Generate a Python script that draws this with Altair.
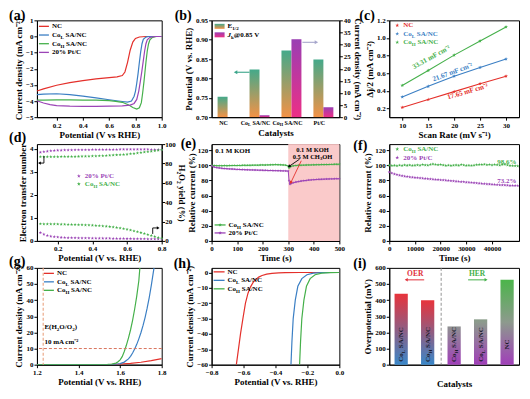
import math
import altair as alt
import pandas as pd

FONT = "Liberation Serif"
RED, BLUE, GREEN, PURPLE = "#e4302b", "#3b7fc4", "#45b04a", "#9b44b6"
STAR = "M0,-1L0.24,-0.33L0.95,-0.31L0.38,0.12L0.59,0.81L0,0.4L-0.59,0.81L-0.38,0.12L-0.95,-0.31L-0.24,-0.33Z"
W1, W2, W3, H = 125, 128, 130, 97
ONE = pd.DataFrame({"k": [0]})

# ------------------------------------------------------------------ data
# (a) ORR LSV
a_names = ["NC", "CoL", "CoH", "PtC"]
a_cols = [RED, BLUE, GREEN, PURPLE]
a_x_nc = [0.05, 0.1, 0.2, 0.3, 0.4, 0.5, 0.6, 0.66, 0.70, 0.72, 0.74, 0.76, 0.78, 0.80, 0.83, 0.88, 1.0]
a_y_nc = [-3.38, -3.25, -3.02, -2.86, -2.73, -2.63, -2.55, -2.5, -2.42, -2.2, -1.6, -0.85, -0.35, -0.12, -0.03, 0.0, 0.0]
a_x_col = [0.05, 0.1, 0.2, 0.3, 0.4, 0.5, 0.6, 0.7, 0.74, 0.77, 0.79, 0.80, 0.81, 0.82, 0.83, 0.84, 0.85, 0.86, 0.88, 0.9, 1.0]
a_y_col = [-3.6, -3.57, -3.55, -3.6, -3.7, -3.8, -3.92, -4.03, -4.07, -4.0, -3.7, -3.4, -2.9, -2.3, -1.6, -0.95, -0.45, -0.18, -0.04, 0.0, 0.0]
a_x_coh = [0.05, 0.1, 0.2, 0.3, 0.4, 0.5, 0.6, 0.65, 0.70, 0.75, 0.78, 0.81, 0.83, 0.845, 0.855, 0.865, 0.872, 0.88, 0.89, 0.90, 0.91, 0.93, 0.96, 1.0]
a_y_coh = [-3.95, -3.94, -3.93, -3.93, -3.94, -3.95, -3.98, -4.02, -4.08, -4.25, -4.4, -4.5, -4.42, -4.1, -3.5, -2.8, -2.25, -1.6, -0.9, -0.45, -0.2, -0.05, 0.0, 0.0]
a_x_ptc = [0.05, 0.1, 0.15, 0.2, 0.3, 0.4, 0.5, 0.6, 0.7, 0.76, 0.79, 0.81, 0.825, 0.837, 0.849, 0.86, 0.87, 0.88, 0.89, 0.91, 0.95, 1.0]
a_y_ptc = [-3.98, -4.12, -4.22, -4.28, -4.32, -4.33, -4.33, -4.32, -4.3, -4.25, -4.15, -3.9, -3.4, -2.8, -2.15, -1.5, -0.9, -0.45, -0.2, -0.05, 0.0, 0.0]

# (b) half-wave potential and kinetic current
b_cats = ["NC", "CoL", "CoH", "PtC"]
b_e12 = [0.753, 0.823, 0.872, 0.849]
b_jk = [0.0, 0.8, 32.2, 4.1]
b_base = 0.70

# (c) double-layer capacitance
c_rate = [10, 15, 20, 25, 30]
c_nc = [0.21, 0.30, 0.39, 0.48, 0.565]
c_col = [0.33, 0.45, 0.565, 0.665, 0.76]
c_coh = [0.46, 0.63, 0.805, 0.965, 1.125]
c_slopes = ["17.65 mF cm⁻²", "21.67 mF cm⁻²", "33.31 mF cm⁻²"]

# (d) RRDE
d_v = [0.10, 0.12, 0.14, 0.16, 0.18, 0.20, 0.22, 0.24, 0.26, 0.28, 0.30, 0.32, 0.34, 0.36, 0.38, 0.40, 0.42, 0.44,
       0.46, 0.48, 0.50, 0.52, 0.54, 0.56, 0.58, 0.60, 0.62, 0.64, 0.66, 0.68, 0.70, 0.72, 0.74, 0.76, 0.78, 0.80]
d_ptc_n = [3.84, 3.87, 3.89, 3.91, 3.92, 3.93, 3.93, 3.94, 3.94, 3.94, 3.95, 3.95, 3.95, 3.95, 3.95, 3.96, 3.96, 3.96,
           3.96, 3.96, 3.96, 3.96, 3.96, 3.97, 3.97, 3.97, 3.97, 3.97, 3.97, 3.97, 3.97, 3.97, 3.96, 3.96, 3.96, 3.96]
d_coh_n = [3.65, 3.65, 3.65, 3.65, 3.65, 3.65, 3.655, 3.66, 3.66, 3.66, 3.66, 3.665, 3.67, 3.67, 3.675, 3.68, 3.685, 3.69,
           3.695, 3.70, 3.71, 3.72, 3.73, 3.74, 3.75, 3.76, 3.78, 3.79, 3.81, 3.83, 3.85, 3.87, 3.89, 3.91, 3.93, 3.95]
d_coh_y = [17.6, 17.5, 17.5, 17.4, 17.4, 17.3, 17.2, 17.1, 17.0, 16.9, 16.8, 16.7, 16.6, 16.4, 16.3, 16.1, 15.9, 15.7,
           15.4, 15.1, 14.7, 14.3, 13.8, 13.2, 12.6, 11.9, 11.1, 10.3, 9.4, 8.5, 7.5, 6.5, 5.5, 4.5, 3.5, 2.6]
d_ptc_y = [8.5, 6.8, 5.6, 4.8, 4.3, 3.9, 3.6, 3.4, 3.3, 3.2, 3.1, 3.0, 3.0, 2.9, 2.9, 2.8, 2.8, 2.7,
           2.7, 2.6, 2.6, 2.5, 2.5, 2.4, 2.4, 2.3, 2.3, 2.2, 2.2, 2.1, 2.1, 2.0, 2.0, 2.0, 1.9, 1.9]

# (e) methanol tolerance
e_t = [0, 10, 20, 30, 40, 50, 60, 70, 80, 90, 100, 110, 120, 130, 140, 150, 160, 170, 180, 190, 200, 210, 220, 230,
       240, 250, 260, 270, 280, 290, 300, 303, 306, 310, 320, 330, 340, 350, 360, 370, 380, 390, 400, 410, 420, 430,
       440, 450, 460, 470, 480, 490, 500]
e_coh = [100.0, 99.7, 99.5, 99.4, 99.5, 99.6, 99.5, 99.6, 99.7, 99.8, 99.7, 99.8, 99.9, 100.0, 99.9, 100.0, 100.1,
         100.2, 100.1, 100.3, 100.4, 100.3, 100.5, 100.6, 100.7, 100.9, 100.7, 100.6, 100.4, 100.1, 99.0, 96.5, 97.5,
         98.6, 99.3, 99.7, 100.0, 100.1, 100.2, 100.3, 100.4, 100.5, 100.6, 100.7, 100.8, 100.9, 101.0, 101.0, 101.1,
         101.2, 101.3, 101.3, 101.4]
e_ptc = [99.5, 97.6, 96.9, 96.4, 96.0, 95.7, 95.4, 95.2, 95.0, 94.8, 94.6, 94.5, 94.3, 94.2, 94.0, 93.9, 93.8, 93.7,
         93.6, 93.5, 93.4, 93.3, 93.2, 93.1, 93.0, 92.9, 92.8, 92.7, 92.6, 92.5, 92.3, 80.0, 75.0, 75.6, 76.9, 77.8,
         78.5, 79.1, 79.6, 80.0, 80.4, 80.7, 81.0, 81.2, 81.4, 81.5, 81.7, 81.8, 81.9, 82.0, 82.1, 82.2, 82.2]
e_shade = [300, 500]

# (f) stability
f_t = [0, 1000, 2000, 3000, 4000, 5000, 6000, 7000, 8000, 9000, 10000, 11000, 12000, 13000, 14000, 15000, 16000,
       17000, 18000, 19000, 20000, 21000, 22000, 23000, 24000, 25000, 26000, 27000, 28000, 29000, 30000, 31000, 32000,
       33000, 34000, 35000, 36000, 37000, 38000, 39000, 40000, 41000, 42000, 43000, 44000, 45000, 46000, 47000, 48000,
       49000, 50000]
f_coh = [100.0, 99.6, 99.8, 99.4, 100.1, 99.7, 100.4, 99.8, 100.2, 99.6, 100.0, 100.3, 99.9, 100.8, 100.2, 100.1,
         101.0, 101.6, 101.1, 100.5, 100.8, 100.2, 99.7, 100.1, 99.6, 99.9, 100.3, 99.8, 100.9, 100.2, 99.7, 99.9,
         99.5, 100.1, 100.6, 101.0, 100.8, 101.2, 100.5, 100.8, 100.3, 100.9, 100.6, 100.1, 100.8, 101.3, 100.2, 99.7,
         99.4, 99.2, 99.0]
f_ptc = [91.0, 89.6, 88.5, 87.6, 86.8, 86.1, 85.5, 85.0, 84.5, 84.1, 83.8, 83.4, 83.1, 82.8, 82.4, 82.2, 81.9, 81.6,
         81.2, 81.0, 80.6, 80.4, 80.1, 79.8, 79.4, 79.2, 78.9, 78.6, 78.2, 78.0, 77.6, 77.4, 77.1, 76.8, 76.4, 76.2,
         75.9, 75.6, 75.2, 75.0, 74.7, 74.5, 74.3, 74.0, 73.9, 73.7, 73.5, 73.3, 73.2, 73.1, 73.0]
f_final = ["98.6%", "73.2%"]

# (g) OER LSV
g_x_nc = [1.2, 1.4, 1.5, 1.55, 1.6, 1.65, 1.7, 1.75, 1.8]
g_y_nc = [0, 0, 0.02, 0.1, 0.35, 0.8, 1.5, 2.5, 3.8]
g_x_col = [1.2, 1.4, 1.5, 1.55, 1.58, 1.60, 1.62, 1.64, 1.65, 1.66, 1.67, 1.68, 1.69, 1.70, 1.71, 1.72, 1.73, 1.74,
           1.75, 1.76, 1.763]
g_y_col = [0, 0, 0.01, 0.05, 0.25, 0.7, 1.6, 3.6, 5.2, 7.2, 9.7, 12.6, 16.0, 19.8, 24.2, 29.2, 35.0, 41.6, 49.2,
           57.5, 60.0]
g_x_coh = [1.2, 1.4, 1.5, 1.54, 1.56, 1.58, 1.59, 1.60, 1.61, 1.62, 1.63, 1.64, 1.65, 1.66, 1.67, 1.68, 1.69, 1.695]
g_y_coh = [0, 0, 0.03, 0.15, 0.4, 1.0, 1.8, 3.0, 5.0, 8.2, 12.0, 16.5, 21.5, 27.5, 34.5, 42.5, 52.0, 60.0]
g_eq, g_ref = 1.23, 10

# (h) HER LSV
h_x_nc = [-0.645, -0.632, -0.619, -0.604, -0.588, -0.572, -0.557, -0.54, -0.526, -0.505, -0.484, -0.455, -0.422,
          -0.38, -0.339, -0.25, -0.1, 0.0]
h_y_nc = [-60, -50, -40, -30, -20, -13.5, -9.5, -6.5, -4.8, -3.0, -2.0, -1.1, -0.55, -0.22, -0.1, -0.03, 0, 0]
h_x_col = [-0.303, -0.297, -0.289, -0.276, -0.26, -0.235, -0.203, -0.162, -0.11, -0.05, 0.0]
h_y_col = [-60, -45, -30, -18, -9, -4, -1.5, -0.4, -0.1, -0.02, 0]
h_x_coh = [-0.249, -0.243, -0.235, -0.222, -0.206, -0.183, -0.152, -0.11, -0.058, 0.0]
h_y_coh = [-60, -45, -30, -18, -9, -4, -1.5, -0.4, -0.1, 0]

# (i) overpotentials
i_ids = ["CoL_OER", "CoH_OER", "CoH_HER", "CoL_HER", "NC_HER"]
i_keys = ["CoL", "CoH", "CoH", "CoL", "NC"]
i_grp = ["OER", "OER", "HER", "HER", "HER"]
i_vals = [440, 400, 237, 281, 527]

# ------------------------------------------------------------------ helpers
CW = {' ': .25, '(': .333, ')': .333, '%': 1.0, '/': .278, '.': .25, '@': .93, '-': .333, 'A': .722, 'C': .722,
      'E': .667, 'H': .778, 'J': .5, 'K': .778, 'L': .667, 'M': .944, 'N': .722, 'O': .778, 'P': .611, 'R': .722,
      'S': .556, 'V': .722, 'a': .5, 'c': .444, 'e': .444, 'k': .556, 'l': .278, 'm': .833, 'o': .5, 's': .389,
      't': .333, 'n': .556, 'i': .278, 'r': .444, 'F': .611}
LBL = {"NC": [("NC", "n")], "CoL": [("Co", "n"), ("L", "sub"), (" SA/NC", "n")],
       "CoH": [("Co", "n"), ("H", "sub"), (" SA/NC", "n")], "PtC": [("20% Pt/C", "n")]}
B_LBL = {"NC": [("NC", "n")], "CoL": LBL["CoL"], "CoH": LBL["CoH"], "PtC": [("Pt/C", "n")]}


def tw(s, size):
    return sum(CW.get(ch, 0.5) for ch in s) * size


def rich(parts, x, y, size=7, color="black", align="left", angle=None, df=None, baseline="alphabetic", shift=0):
    sz = [size * 0.72 if k == "sub" else size for _, k in parts]
    ws = [tw(t, s) for (t, _), s in zip(parts, sz)]
    off = {"left": 0, "center": -sum(ws) / 2, "right": -sum(ws)}[align] + shift
    out = []
    for (t, k), s, w in zip(parts, sz, ws):
        lead = len(t) - len(t.lstrip(" "))
        mk = dict(text=t.strip(), font=FONT, fontSize=s, fontWeight="bold", color=color, align="left",
                  baseline=baseline, dx=off + lead * 0.25 * s, dy=(size * 0.3 if k == "sub" else 0))
        if angle is not None:
            mk["angle"] = angle
        if k == "i":
            mk["fontStyle"] = "italic"
        out.append(alt.Chart(df if df is not None else ONE).mark_text(**mk).encode(x=x, y=y))
        off += w
    return out


def legend(items, x0, y0, step, kind, colored=False, lx=10, tx=13, fs=7):
    out = []
    for i, (key, col) in enumerate(items):
        y = y0 + i * step
        if kind in ("line", "linept"):
            out.append(alt.Chart(ONE).mark_rule(color=col, strokeWidth=1.3).encode(
                x=alt.value(x0), x2=alt.value(x0 + lx), y=alt.value(y)))
        if kind in ("pt", "linept"):
            out.append(alt.Chart(ONE).mark_point(shape=STAR, filled=True, size=16, color=col, opacity=1).encode(
                x=alt.value(x0 + lx / 2), y=alt.value(y)))
        out += rich(LBL[key], alt.value(x0 + tx), alt.value(y), size=fs, color=col if colored else "black",
                    baseline="middle")
    return out


def seg(x0, y0, x1, y1, color="black", w=0.9):
    return alt.Chart(ONE).mark_rule(color=color, strokeWidth=w).encode(
        x=alt.value(x0), y=alt.value(y0), x2=alt.value(x1), y2=alt.value(y1))


def head(x, y, shape, color="black", size=14, angle=None):
    mk = dict(shape=shape, filled=True, size=size, color=color, opacity=1)
    if angle is not None:
        mk["angle"] = angle
    return alt.Chart(ONE).mark_point(**mk).encode(x=alt.value(x), y=alt.value(y))


def plabel(s, x, y=0):
    return alt.Chart(ONE).mark_text(text=s, font=FONT, fontSize=14, fontWeight="bold", align="left",
                                    baseline="alphabetic").encode(x=alt.value(x), y=alt.value(y))


class Pos:
    """A positional channel whose scale and axis are repeated identically in every layer."""

    def __init__(self, ch, dom, vals, title, fmt=None, **kw):
        ax = dict(title=title, values=vals, labelOverlap=False, **kw)
        if fmt:
            ax["format"] = fmt
        self.ch, self.axis = ch, alt.Axis(**ax)
        self.scale = alt.Scale(domain=dom, nice=False, zero=False)

    def f(self, field):
        return self.ch(field, scale=self.scale, axis=self.axis)

    def d(self, v):
        return self.ch(datum=v, scale=self.scale, axis=self.axis)


def grad_stops(stops):
    return alt.LinearGradient(gradient="linear", x1=0, x2=0, y1=0, y2=1,
                              stops=[alt.GradientStop(color=c, offset=o) for o, c in stops])


def grad(top, bottom):
    return grad_stops([(0, top), (1, bottom)])


def mix(c1, c2, t):
    a = [int(c1[i:i + 2], 16) for i in (1, 3, 5)]
    b = [int(c2[i:i + 2], 16) for i in (1, 3, 5)]
    return "#" + "".join(f"{round(x + (y - x) * t):02x}" for x, y in zip(a, b))


def long_df(names, xs_list, ys_list):
    return pd.concat([pd.DataFrame({"x": xs, "y": ys, "s": n}) for n, xs, ys in zip(names, xs_list, ys_list)],
                     ignore_index=True)


def arrow_angle(dx, dy):
    return (math.degrees(math.atan2(dx, -dy)) + 360) % 360


def dtext(s, px, py, x, y, col="black", align="left", fs=7, angle=None):
    mk = dict(text=s, font=FONT, fontSize=fs, fontWeight="bold", color=col, align=align, baseline="middle")
    if angle is not None:
        mk["angle"] = angle
    return alt.Chart(ONE).mark_text(**mk).encode(x=px.d(x), y=py.d(y))


CS = alt.Scale(domain=a_names, range=a_cols)
COLOR = alt.Color("s:N", scale=CS, legend=None)

# ------------------------------------------------------------------ (a)
a_df = long_df(a_names, [a_x_nc, a_x_col, a_x_coh, a_x_ptc], [a_y_nc, a_y_col, a_y_coh, a_y_ptc])
ax_ = Pos(alt.X, [0.05, 1.0], [0.2, 0.4, 0.6, 0.8, 1.0], "Potential (V vs RHE)", ".1f")
ay_ = Pos(alt.Y, [-5, 1], [-5, -4, -3, -2, -1, 0, 1], "Current density (mA cm⁻²)")
a_ln = alt.Chart(a_df).mark_line(strokeWidth=1.2).encode(x=ax_.f("x:Q"), y=ay_.f("y:Q"), color=COLOR)
pa = alt.layer(a_ln, *legend(list(zip(a_names, a_cols)), 2, 6, 8.7, "line"), plabel("(a)", -28)
               ).properties(width=W1, height=H)

# ------------------------------------------------------------------ (b)
b_df = pd.DataFrame({"cat": b_cats, "e": b_e12, "j": b_jk})
xb = alt.X("cat:N", sort=b_cats, scale=alt.Scale(domain=b_cats, paddingInner=0.375, paddingOuter=0.1875),
           axis=alt.Axis(title="Catalysts", labels=False, ticks=False, titlePadding=11))
GE, GJ = grad("#44a98a", "#f39246"), grad("#9a3fb3", "#ec2f86")
by_e = Pos(alt.Y, [0.70, 0.95], [0.70, 0.75, 0.80, 0.85, 0.90, 0.95], "Potential (V vs. RHE)", ".2f")
by_j = Pos(alt.Y, [0, 40], [0, 5, 10, 15, 20, 25, 30, 35, 40], "Current density (mA cm⁻²)", orient="right")
e_bar = alt.Chart(b_df).mark_bar(width=10, xOffset=-5, fill=GE, clip=True).encode(
    x=xb, y=by_e.f("e:Q"), y2=alt.Y2(datum=b_base))
j_bar = alt.Chart(b_df).mark_bar(width=10, xOffset=5, fill=GJ).encode(x=xb, y=by_j.f("j:Q"))
b_extra = []
for c in b_cats:
    b_extra += rich(B_LBL[c], xb, alt.value(H + 7.5), size=6, align="center", df=pd.DataFrame({"cat": [c]}),
                    shift=-4)
b_extra += [
    alt.Chart(ONE).mark_rect(fill=GE).encode(x=alt.value(3), x2=alt.value(13), y=alt.value(3.5), y2=alt.value(8.5)),
    alt.Chart(ONE).mark_rect(fill=GJ).encode(x=alt.value(3), x2=alt.value(13), y=alt.value(12), y2=alt.value(17)),
]
b_extra += rich([("E", "n"), ("1/2", "sub")], alt.value(16), alt.value(6), baseline="middle")
b_extra += rich([("J", "i"), ("k", "sub"), ("@0.85 V", "n")], alt.value(16), alt.value(14.5), baseline="middle")
b_extra += [seg(38, 52, 25, 52, "#3aa58a", 1.1), head(24, 52, "triangle-left", "#3aa58a", 16),
            seg(91, 22, 104, 22, "#a6a6cc", 1.1), head(105, 22, "triangle-right", "#a6a6cc", 16),
            plabel("(b)", -37)]
pb = alt.layer(alt.layer(e_bar, *b_extra), alt.layer(j_bar)).resolve_scale(y="independent").properties(
    width=W2, height=H)

# ------------------------------------------------------------------ (c)
c_names = ["NC", "CoL", "CoH"]
c_df = long_df(c_names, [c_rate] * 3, [c_nc, c_col, c_coh])
cx = Pos(alt.X, [7.5, 32.5], [10, 15, 20, 25, 30], "Scan Rate (mV s⁻¹)")
cy = Pos(alt.Y, [0.1, 1.2], [0.2, 0.4, 0.6, 0.8, 1.0, 1.2], "Δj/2 (mA cm⁻²)", ".1f")
c_ln = alt.Chart(c_df).mark_line(strokeWidth=1.1).encode(x=cx.f("x:Q"), y=cy.f("y:Q"), color=COLOR)
c_pt = alt.Chart(c_df).mark_point(shape=STAR, filled=True, size=16, opacity=1).encode(
    x=cx.f("x:Q"), y=cy.f("y:Q"), color=COLOR)
c_txt = [dtext(lab, cx, cy, xx, yy, col, "center", 7, ang)
         for lab, col, xx, yy, ang in zip(c_slopes, [RED, BLUE, GREEN], [22.6, 19.7, 15.6], [0.39, 0.61, 0.78],
                                          [344, 340, 331])]
pc = alt.layer(c_ln, c_pt, *c_txt, *legend(list(zip(c_names, [RED, BLUE, GREEN])), 8, 5, 8.5, "pt", True, 0, 6),
               plabel("(c)", -30)).properties(width=W3, height=H)

# ------------------------------------------------------------------ (d)
d_n = long_df(["PtC", "CoH"], [d_v, d_v], [d_ptc_n, d_coh_n])
d_y = long_df(["PtC", "CoH"], [d_v, d_v], [d_ptc_y, d_coh_y])
dx_ = Pos(alt.X, [0.08, 0.8], [0.2, 0.4, 0.6, 0.8], "Potential (V vs. RHE)", ".1f")
dy_n = Pos(alt.Y, [0, 4.2], [0, 1, 2, 3, 4], "Electron transfer number")
dy_y = Pos(alt.Y, [0, 100], [0, 20, 40, 60, 80, 100], "H₂O₂ yield (%)", orient="right", labelPadding=0,
           titlePadding=1)
d_np = alt.Chart(d_n).mark_point(shape=STAR, filled=True, size=12, opacity=1).encode(
    x=dx_.f("x:Q"), y=dy_n.f("y:Q"), color=COLOR)
d_yp = alt.Chart(d_y).mark_point(shape=STAR, filled=True, size=12, opacity=1).encode(
    x=dx_.f("x:Q"), y=dy_y.f("y:Q"), color=COLOR)
d_extra = legend([("PtC", PURPLE), ("CoH", GREEN)], 42, 32, 8, "pt", True, 0, 6)
d_extra += [seg(7, 12, 7, 19), seg(7, 19, 3, 19), head(2.5, 19, "triangle-left", size=10),
            seg(116, 90, 116, 84), seg(116, 84, 121, 84), head(121.5, 84, "triangle-right", size=10),
            plabel("(d)", -28, -2)]
pd_ = alt.layer(alt.layer(d_np, *d_extra), alt.layer(d_yp)).resolve_scale(y="independent").properties(
    width=W1, height=H)

# ------------------------------------------------------------------ (e)
e_df = long_df(["CoH", "PtC"], [e_t, e_t], [e_coh, e_ptc])
ex = Pos(alt.X, [0, 500], [0, 100, 200, 300, 400, 500], "Time (s)")
ey = Pos(alt.Y, [0, 128], [0, 20, 40, 60, 80, 100, 120], "Relative current (%)", titlePadding=1)
e_rect = alt.Chart(pd.DataFrame({"x": [e_shade[0]], "x2": [e_shade[1]]})).mark_rect(
    color="#f9c4c4", opacity=0.9).encode(x=ex.f("x:Q"), x2="x2:Q", y=alt.value(0), y2=alt.value(H))
e_ln = alt.Chart(e_df).mark_line(strokeWidth=1.0).encode(x=ex.f("x:Q"), y=ey.f("y:Q"), color=COLOR)
e_pt = alt.Chart(e_df).mark_point(shape=STAR, filled=True, size=9, opacity=1).encode(
    x=ex.f("x:Q"), y=ey.f("y:Q"), color=COLOR)


def darrow(x0, y0, x1, y1, col, ang):
    return [alt.Chart(ONE).mark_rule(color=col, strokeWidth=0.9).encode(
        x=ex.d(x0), y=ey.d(y0), x2=alt.X2(datum=x1), y2=alt.Y2(datum=y1)),
        alt.Chart(ONE).mark_point(shape="triangle-up", filled=True, size=12, color=col, opacity=1, angle=ang).encode(
            x=ex.d(x1), y=ey.d(y1))]


ang_k = arrow_angle((303 - 344) / 500 * W2, (108 - 98.5) / 128 * H)
ang_r = arrow_angle((310 - 351) / 500 * W2, (106 - 77) / 128 * H)
e_extra = [dtext("0.1 M KOH", ex, ey, 14, 118.5), dtext("0.1 M KOH", ex, ey, 395, 120.5, align="center", fs=6.5)]
e_extra += rich([("0.5 M CH", "n"), ("3", "sub"), ("OH", "n")], ex.d(395), ey.d(110.5), size=6.5,
                align="center", baseline="middle")
e_extra += darrow(344, 108, 303, 98.5, "black", ang_k) + darrow(351, 106, 310, 77, RED, ang_r)
e_extra += legend([("CoH", GREEN), ("PtC", PURPLE)], 3, 81, 8, "linept", False, 11, 14)
pe = alt.layer(e_rect, e_ln, e_pt, *e_extra, plabel("(e)", -31, 4)).properties(width=W2, height=H)

# ------------------------------------------------------------------ (f)
f_df = long_df(["CoH", "PtC"], [f_t, f_t], [f_coh, f_ptc])
fx = Pos(alt.X, [0, 50500], [0, 10000, 20000, 30000, 40000], "Time (s)", "d")
fy = Pos(alt.Y, [0, 128], [0, 20, 40, 60, 80, 100, 120], "Relative current (%)")
f_pt = alt.Chart(f_df).mark_point(shape=STAR, filled=True, size=12, opacity=1).encode(
    x=fx.f("x:Q"), y=fy.f("y:Q"), color=COLOR)
f_extra = [dtext(f_final[0], fx, fy, 49500, 104.5, GREEN, "right"),
           dtext(f_final[1], fx, fy, 49500, 79, PURPLE, "right")]
f_extra += legend([("CoH", GREEN), ("PtC", PURPLE)], 8, 5, 8.5, "pt", True, 0, 6)
pf = alt.layer(f_pt, *f_extra, plabel("(f)", -36, 6)).properties(width=W3, height=H)

# ------------------------------------------------------------------ (g)
g_df = long_df(["NC", "CoL", "CoH"], [g_x_nc, g_x_col, g_x_coh], [g_y_nc, g_y_col, g_y_coh])
gx = Pos(alt.X, [1.2, 1.8], [1.2, 1.4, 1.6, 1.8], "Potential (V vs. RHE)", ".1f")
gy = Pos(alt.Y, [0, 60], [0, 10, 20, 30, 40, 50, 60], "Current density (mA cm⁻²)")
g_ln = alt.Chart(g_df).mark_line(strokeWidth=1.2, clip=True).encode(x=gx.f("x:Q"), y=gy.f("y:Q"), color=COLOR)
g_extra = [alt.Chart(ONE).mark_rule(color="#eaa381", strokeDash=[3, 2], strokeWidth=1.1).encode(x=gx.d(g_eq)),
           alt.Chart(ONE).mark_rule(color="#d9735c", strokeDash=[3, 2], strokeWidth=1.0).encode(y=gy.d(g_ref))]
g_extra += rich([("E(H", "n"), ("2", "sub"), ("O/O", "n"), ("2", "sub"), (")", "n")], gx.d(1.236),
                gy.d(23.5), baseline="middle")
g_extra += [dtext("10 mA cm⁻²", gx, gy, 1.236, 14)]
g_extra += legend([("NC", RED), ("CoL", BLUE), ("CoH", GREEN)], 7, 5.5, 8.5, "line")
pg = alt.layer(g_ln, *g_extra, plabel("(g)", -28, -2)).properties(width=W1, height=H)

# ------------------------------------------------------------------ (h)
h_df = long_df(["NC", "CoL", "CoH"], [h_x_nc, h_x_col, h_x_coh], [h_y_nc, h_y_col, h_y_coh])
hx = Pos(alt.X, [-0.8, 0.0], [-0.8, -0.6, -0.4, -0.2, 0.0], "Potential (V vs. RHE)", ".1f")
hy = Pos(alt.Y, [-60, 3], [-60, -50, -40, -30, -20, -10, 0], "Current density (mA cm⁻²)")
h_ln = alt.Chart(h_df).mark_line(strokeWidth=1.2, clip=True).encode(x=hx.f("x:Q"), y=hy.f("y:Q"), color=COLOR)
ph = alt.layer(h_ln, *legend([("NC", RED), ("CoL", BLUE), ("CoH", GREEN)], 2, 4, 8.5, "line", lx=11, tx=14),
               plabel("(h)", -38)).properties(width=W2, height=H)

# ------------------------------------------------------------------ (i)
i_df = pd.DataFrame({"id": i_ids, "v": i_vals, "g": i_grp})
xi = alt.X("id:N", sort=i_ids, scale=alt.Scale(domain=i_ids, paddingInner=0.5, paddingOuter=0.2),
           axis=alt.Axis(title="Catalysts", labels=False, ticks=False, titlePadding=15))
yi = Pos(alt.Y, [0, 600], [0, 100, 200, 300, 400, 500, 600], "Overpotential (mV)")
i_oer = alt.Chart(i_df).transform_filter(alt.datum.g == "OER").mark_bar(
    fill=grad("#e8333b", "#3987c9")).encode(x=xi, y=yi.f("v:Q"))
# HER bars share one green→grey→purple ramp measured from the axis, so shorter bars start greyer
H_TOP, H_MID, H_BOT = "#4bb54a", "#8d9a8d", "#a03fb9"
her_max = max(v for v, g in zip(i_vals, i_grp) if g == "HER")
i_her = []
for iid, v, g in zip(i_ids, i_vals, i_grp):
    if g != "HER":
        continue
    t = v / her_max
    top = mix(H_MID, H_TOP, (t - 0.5) / 0.5) if t > 0.5 else mix(H_BOT, H_MID, t / 0.5)
    stops = [(0, top)]
    if t > 0.5:
        stops.append((1 - 0.5 / t, H_MID))
    stops.append((1, H_BOT))
    i_her.append(alt.Chart(i_df).transform_filter(alt.datum.id == iid).mark_bar(
        fill=grad_stops(stops)).encode(x=xi, y=yi.f("v:Q")))
i_extra = []
for iid, key in zip(i_ids, i_keys):
    i_extra += rich(B_LBL[key], xi, alt.value(H * (1 - 125 / 600)), size=7, color="#1b1b2b", align="center",
                    angle=270, df=pd.DataFrame({"id": [iid]}), baseline="middle")
i_extra += [alt.Chart(ONE).mark_rule(color="#888888", strokeDash=[3, 2], strokeWidth=0.9).encode(
    x=alt.value(52), y=alt.value(0), y2=alt.value(H))]
i_extra += [alt.Chart(ONE).mark_text(text="OER", font=FONT, fontSize=7.5, fontWeight="bold", color="#e0303a",
                                     align="center", baseline="middle").encode(x=alt.value(26), y=alt.value(6.5)),
            seg(35, 12, 18, 12, "#e0303a", 1.0), head(17, 12, "triangle-left", "#e0303a", 12),
            alt.Chart(ONE).mark_text(text="HER", font=FONT, fontSize=7.5, fontWeight="bold", color="#44b04a",
                                     align="center", baseline="middle").encode(x=alt.value(88), y=alt.value(6.5)),
            seg(79, 12, 96, 12, "#44b04a", 1.0), head(97, 12, "triangle-right", "#44b04a", 12)]
pi = alt.layer(i_oer, *i_her, *i_extra, plabel("(i)", -36)).properties(width=W3, height=H)

# ------------------------------------------------------------------ assemble
chart = alt.concat(pa, pb, pc, pd_, pe, pf, pg, ph, pi, columns=3, bounds="flush",
                   spacing={"row": 27, "column": 50}).properties(
    padding={"left": 0, "top": 0, "right": 2, "bottom": 2}
).configure_axis(
    labelFont=FONT, titleFont=FONT, labelFontWeight="bold", titleFontWeight="bold", labelFontSize=7,
    titleFontSize=9, labelColor="black", titleColor="black", domainColor="black", tickColor="black",
    tickSize=3, labelPadding=1, titlePadding=2, grid=False, labelFlush=False, labelOverlap=False
).configure_view(stroke="black", strokeWidth=1)

chart.save("out.html", embed_options={"renderer": "svg", "actions": False})
